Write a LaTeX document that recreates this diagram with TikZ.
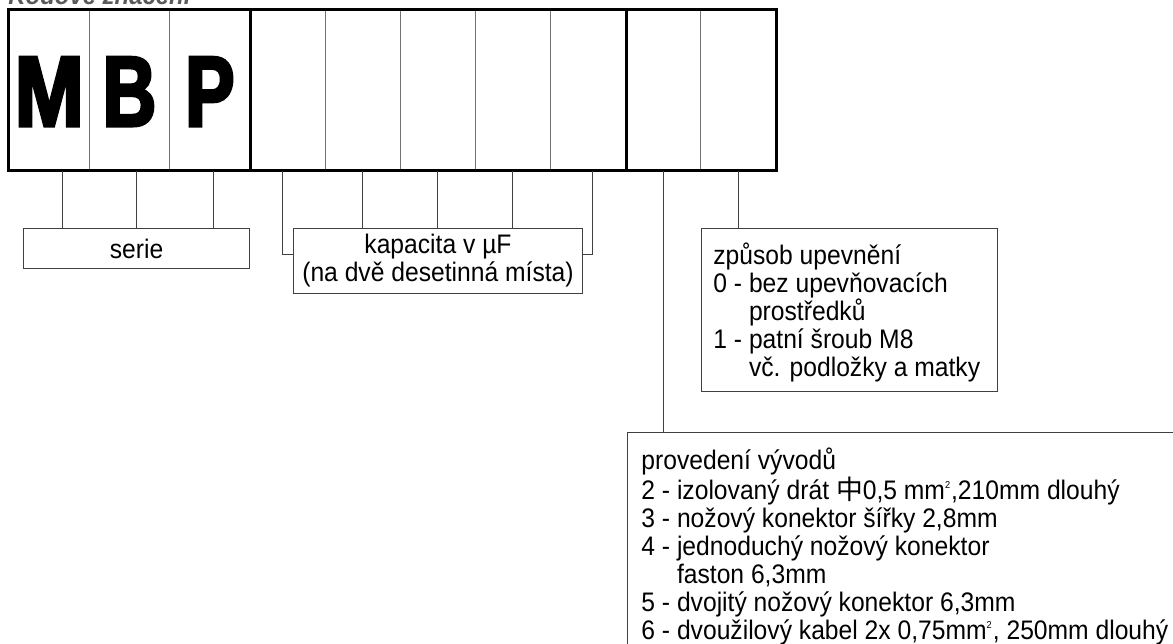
\documentclass[tikz,border=0pt]{standalone}
\usepackage{fontspec}
\setmainfont{Liberation Sans}[FakeStretch=0.92]
\newfontfamily\cjk{Noto Sans CJK SC}
\newfontfamily\mbpfont[FakeStretch=0.74,FakeBold=3]{Liberation Sans}
\definecolor{titlegray}{HTML}{5A5A5A}
\tikzset{
  cell/.style={draw=black!55, line width=0.5pt, inner sep=0pt, minimum height=80pt},
  frame/.style={line width=1.5pt},
  letter/.style={font=\mbpfont\bfseries\fontsize{50}{50}\selectfont, inner sep=0pt, anchor=base},
  legend/.style={draw=black!75, line width=0.5pt, inner sep=0pt, anchor=north west, font=\fontsize{13.4}{14}\selectfont},
  lead/.style={draw=black!75, line width=0.5pt},
  listtext/.style={align=left, inner sep=0pt, anchor=north west, font=\fontsize{13.4}{14}\selectfont},
}
\begin{document}
\begin{tikzpicture}[x=0.5pt,y=-0.5pt]
\useasboundingbox (0,0) rectangle (1173,643);
\clip (0,0) rectangle (1173,643);
% title, cut off by the top edge
\node[anchor=base west, inner sep=0pt, text=titlegray, font=\bfseries\itshape\fontsize{13}{14}\selectfont] (title) at (8,4.5) {Kódové značení};
% code cells
\foreach \n in {1,2,3} \node[cell, minimum width=40.17pt] (c\n) at (9+80.33*\n-40.17,90) {};
\foreach \n in {4,...,10} \node[cell, minimum width=37.57pt] (c\n) at (250+75.14*\n-300.56+37.57,90) {};
\draw[frame] (c1.north west) rectangle (c10.south east);
\foreach \n in {3,8} \draw[frame] (c\n.north east) -- (c\n.south east);
\node[letter] (m) at ([yshift=-18pt]c1.center) {\scalebox{1.12}[1]{M}};
\node[letter] (b) at ([yshift=-18pt]c2.center) {B};
\node[letter] (p) at ([yshift=-18pt]c3.center) {P};
% legend boxes
\node[legend, minimum width=113pt, minimum height=20pt] (serie) at (23,228) {serie};
\node[legend, minimum width=144.5pt, minimum height=32.5pt, align=center] (kap) at (293,228) {kapacita v µF\\(na dvě desetinná místa)};
\node[legend, minimum width=148pt, minimum height=81.5pt] (zpus) at (701,228) {};
\node[legend, minimum width=300pt, minimum height=130pt] (prov) at (627,432) {};
\node[listtext] (zpustext) at (713,242) {\rule{0pt}{10pt}způsob upevnění\\
0 - bez upevňovacích\\
\hphantom{0 - }prostředků\\
1 - patní šroub M8\\
\hphantom{1 - }vč. podložky a matky};
\node[listtext] (provtext) at (641,447) {\rule{0pt}{10pt}provedení vývodů\\
2 - izolovaný drát {\cjk 中}0,5 mm\textsuperscript{\tiny 2},210mm dlouhý\\
3 - nožový konektor šířky 2,8mm\\
4 - jednoduchý nožový konektor\\
\hphantom{4 - }faston 6,3mm\\
5 - dvojitý nožový konektor 6,3mm\\
6 - dvoužilový kabel 2x 0,75mm\textsuperscript{\tiny 2}, 250mm dlouhý};
% leads
\foreach \dx in {-74,0,77} \draw[lead] ([xshift=\dx*0.5pt]serie.north) -- ([xshift=\dx*0.5pt]serie.north |- c1.south);
\foreach \n in {5,6,7} \draw[lead] (c\n.south) -- (c\n.south |- kap.north);
\draw[lead] ([xshift=-2.75pt]c4.south) |- ([yshift=3.25pt]kap.west);
\draw[lead] ([xshift=2.25pt]c8.south) |- ([yshift=3.25pt]kap.east);
\draw[lead] (c9.south) -- (c9.south |- prov.north);
\draw[lead] (c10.south) -- (c10.south |- zpus.north);
\end{tikzpicture}
\end{document}
